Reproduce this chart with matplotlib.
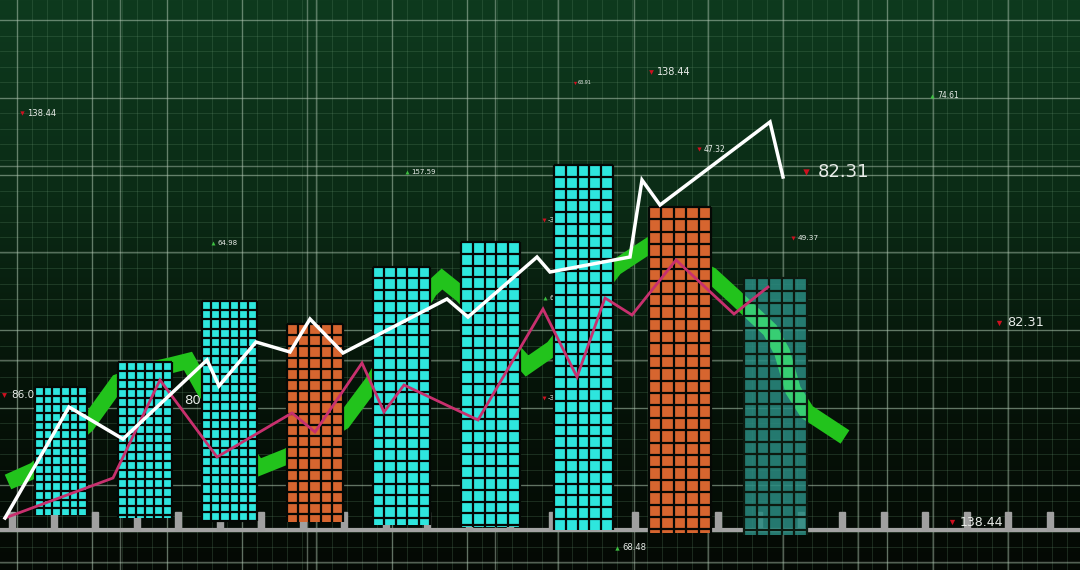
import numpy as np
import matplotlib.pyplot as plt
from matplotlib.colors import LinearSegmentedColormap
from matplotlib.patches import Rectangle

# bars, in image pixels (y grows downwards)
bar_left = [35, 118, 202, 287, 373, 461, 554, 649, 744]
bar_right = [87, 172, 257, 343, 430, 520, 613, 711, 807]
bar_top = [387, 362, 301, 324, 267, 242, 165, 207, 278]
bar_bottom = [515, 518, 521, 522, 525, 527, 530, 533, 535]
bar_kind = ['up', 'up', 'up', 'down', 'up', 'up', 'up', 'down', 'ghost']
bar_cols = [6, 6, 6, 5, 5, 5, 5, 5, 5]

# white price line
white_x = [5, 69, 123, 207, 219, 256, 290, 310, 343, 447, 468, 537, 550, 630, 642, 660, 770, 783]
white_y = [518, 407, 439, 360, 386, 342, 352, 319, 353, 299, 317, 257, 272, 257, 180, 205, 122, 177]

# pink line
pink_x = [5, 113, 160, 217, 292, 315, 362, 384, 404, 478, 543, 577, 605, 632, 676, 734, 768]
pink_y = [518, 478, 380, 457, 413, 432, 363, 412, 385, 420, 309, 377, 298, 315, 260, 314, 287]

# green ribbon
rib_x = [8, 35, 87, 118, 150, 172, 188, 203, 258, 288, 343, 372, 430, 442, 462, 520, 527, 553, 615, 650, 711, 735, 770, 782, 793, 807, 845]
rib_y = [482, 470, 425, 382, 370, 365, 361, 388, 468, 456, 422, 383, 290, 279, 295, 358, 366, 348, 268, 245, 275, 297, 330, 352, 390, 412, 437]

# floating quotes
lab_x = [27, 411, 217, 578, 657, 704, 818, 798, 937, 1007, 960, 622, 11, 184, 548, 549, 548]
lab_y = [113, 172, 243, 83, 72, 149, 172, 238, 96, 323, 522, 548, 395, 400, 220, 298, 398]
lab_text = ['138.44', '157.59', '64.98', '63.91', '138.44', '47.32', '82.31', '49.37', '74.61',
            '82.31', '138.44', '68.48', '86.0', '80.76', '-3.12', '6.05', '-3.40']
lab_size = [6, 5, 5, 3.5, 7, 5.5, 13, 5.3, 5.5, 9.3, 9, 6, 7.5, 9.5, 5, 5, 5]
lab_dir = ['down', 'up', 'up', 'down', 'down', 'down', 'down', 'down', 'up',
           'down', 'down', 'up', 'down', 'none', 'down', 'up', 'down']

W, H = 1080, 570
fig = plt.figure(figsize=(10.8, 5.7), dpi=100)
ax = fig.add_axes([0, 0, 1, 1])
ax.set_xlim(0, W)
ax.set_ylim(H, 0)
ax.axis('off')

# background gradient
bg = LinearSegmentedColormap.from_list('bg', ['#0e3a1e', '#0b2c16', '#061409', '#040904'])
grad = np.linspace(0, 1, 256).reshape(-1, 1)
ax.imshow(grad, cmap=bg, extent=[0, W, H, 0], aspect='auto', zorder=0)

# grid
for x in np.arange(17, W, 15):
    ax.axvline(x, color='#5f8a68', lw=0.6, alpha=0.3, zorder=0.5)
for y in np.arange(20, H, 15.5):
    ax.axhline(y, color='#5f8a68', lw=0.6, alpha=0.3, zorder=0.5)
for x in [17, 92, 120, 167, 242, 307, 316, 392, 467, 495, 558, 634, 708, 783, 858, 887, 933, 1008]:
    ax.axvline(x, color='#b8cbb9', lw=1.0, alpha=0.45, zorder=0.6)
for y in [20, 98, 166, 175, 252, 330, 360, 408, 485, 562]:
    ax.axhline(y, color='#b8cbb9', lw=1.0, alpha=0.45, zorder=0.6)

# base axis with ticks
ax.plot([0, W], [530, 530], color='#a3a3a3', lw=3, zorder=1, solid_capstyle='butt')
for x in np.arange(12, W, 41.5):
    ax.add_patch(Rectangle((x - 3, 512), 6, 18, color='#a0a0a0', zorder=1))

# labels
for x, y, t, s, d in zip(lab_x, lab_y, lab_text, lab_size, lab_dir):
    if d != 'none':
        c = '#cf1020' if d == 'down' else '#3cc040'
        ax.scatter([x - s * 0.9], [y], marker='v' if d == 'down' else '^', s=s * 1.6,
                   color=c, zorder=1.5, linewidths=0)
    ax.text(x, y, t, color='#e8ece8', fontsize=s, va='center', ha='left',
            family='DejaVu Sans', zorder=1.5)

# ribbon behind the bars
ax.plot(rib_x, rib_y, color='#22c31c', lw=11.5, solid_joinstyle='miter',
        solid_capstyle='butt', zorder=2)

face = {'up': '#2ee6de', 'down': '#d6652f', 'ghost': '#2a8c82'}
for l, r, t, b, k, n in zip(bar_left, bar_right, bar_top, bar_bottom, bar_kind, bar_cols):
    w = r - l
    rect = Rectangle((l, t), w, b - t, facecolor=face[k], edgecolor='none',
                     alpha=0.85 if k == 'ghost' else 1, zorder=3)
    ax.add_patch(rect)
    if k == 'ghost':
        # ribbon seen through the translucent bar
        ln, = ax.plot(rib_x, rib_y, color='#3de274', lw=11.5, alpha=0.75,
                      solid_joinstyle='miter', solid_capstyle='butt', zorder=3.5)
        ln.set_clip_path(rect)
    cell = w / n
    gc = '#0c1a10' if k == 'ghost' else '#050805'
    ax.vlines(l + cell * np.arange(n + 1), t, b, color=gc, lw=1.6, zorder=4)
    ax.hlines(np.arange(t, b + 0.1, cell), l, r, color=gc, lw=1.6, zorder=4)

# lines on top
ax.plot(pink_x, pink_y, color='#c8306e', lw=2.0, zorder=5, solid_joinstyle='miter')
ax.plot(white_x, white_y, color='#ffffff', lw=2.5, zorder=6, solid_joinstyle='miter')

fig.savefig('out.png', dpi=100)
